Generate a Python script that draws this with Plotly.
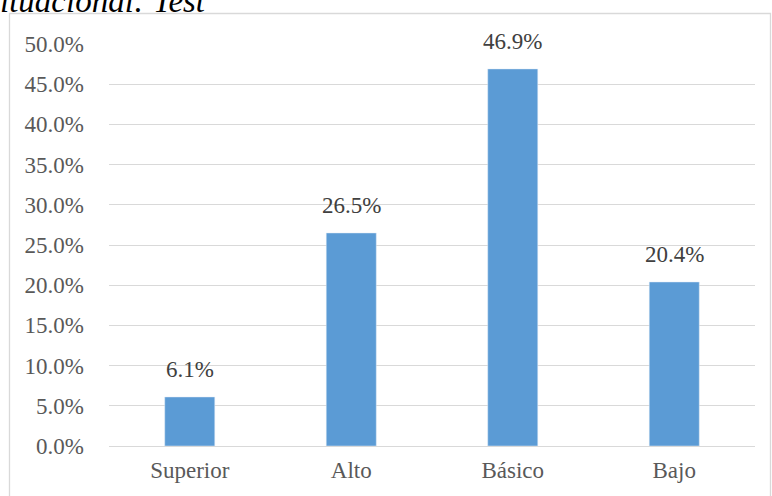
import plotly.graph_objects as go

categories = ["Superior", "Alto", "Básico", "Bajo"]
shares = [0.061, 0.265, 0.469, 0.204]

W, H = 772, 496
L, R, T, B = 109, 17, 44, 50
pw, ph = W - L - R, H - T - B

def px_x(p):
    return (p - L) / pw

def px_y(p):
    return (H - B - p) / ph

FONT = "Liberation Serif"

fig = go.Figure(
    go.Bar(
        x=categories,
        y=shares,
        marker_color="#5b9bd5",
        hoverinfo="x+y",
    )
)

# value labels above each bar
value_labels = [
    dict(
        x=c,
        y=v,
        xref="x",
        yref="y",
        text=f"{v * 100:.1f}%",
        showarrow=False,
        yanchor="bottom",
        yshift=13,
        font=dict(family=FONT, size=23, color="#404040"),
    )
    for c, v in zip(categories, shares)
]

caption = dict(
    text="<i>ituacional: Test</i>",
    xref="paper",
    yref="paper",
    x=px_x(-2),
    y=px_y(21),
    xanchor="left",
    yanchor="bottom",
    showarrow=False,
    font=dict(family=FONT, size=33, color="black"),
)

fig.update_layout(
    width=W,
    height=H,
    margin=dict(l=L, r=R, t=T, b=B),
    paper_bgcolor="white",
    plot_bgcolor="white",
    bargap=0.69,
    showlegend=False,
    font=dict(family=FONT, size=23, color="#595959"),
    xaxis=dict(
        showgrid=False,
        showline=False,
        ticks="",
        ticklabelstandoff=8,
        tickfont=dict(family=FONT, size=23, color="#595959"),
    ),
    yaxis=dict(
        range=[0, 0.5],
        dtick=0.05,
        tickformat=".1%",
        showgrid=True,
        gridcolor="#d9d9d9",
        gridwidth=1.3,
        zeroline=True,
        zerolinecolor="#d9d9d9",
        zerolinewidth=1.3,
        showline=False,
        ticks="",
        ticklabelstandoff=24,
        tickfont=dict(family=FONT, size=23, color="#595959"),
    ),
    shapes=[
        dict(
            type="rect",
            xref="paper",
            yref="paper",
            x0=px_x(9.5),
            x1=px_x(770.5),
            y0=px_y(510),
            y1=px_y(13.5),
            line=dict(color="#d9d9d9", width=1.3),
            layer="below",
        )
    ],
    annotations=value_labels + [caption],
)

fig.write_html("out.html")
